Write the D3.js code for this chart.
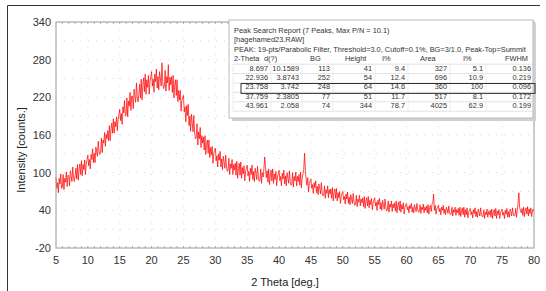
<!DOCTYPE html>
<html>
<head>
<style>
  body { margin: 0; background: #fff; font-family: "Liberation Sans", Arial, sans-serif; }
  .tick-label { font-size: 11px; fill: #333; }
  .axis-title { font-size: 11px; fill: #222; }
  .tbl { font-size: 7.4px; fill: #333; }
</style>
</head>
<body>
<script src="https://d3js.org/d3.v7.min.js"></script>
<script>
// x starts at 5 deg, one value every 0.125 deg up to 80 (8 per degree)
var startTheta = 5, stepTheta = 0.125;
var intensity = [
  93, 75, 84, 68, 91, 82, 98, 75,          // 5
  77, 97, 73, 91, 85, 101, 78, 96,         // 6
  95, 79, 103, 95, 86, 109, 92, 86,        // 7
  95, 107, 90, 113, 88, 105, 114, 97,      // 8
  119, 95, 113, 105, 120, 97, 114, 121,    // 9
  128, 111, 121, 106, 129, 121, 138, 116,  // 10
  131, 116, 141, 134, 126, 150, 134, 129,  // 11
  134, 155, 132, 152, 147, 164, 142, 161,  // 12
  154, 167, 151, 175, 151, 169, 179, 163,  // 13
  186, 163, 181, 173, 189, 167, 185, 192,  // 14
  201, 183, 194, 177, 205, 195, 215, 190,  // 15
  192, 219, 189, 214, 206, 228, 199, 222,  // 16
  222, 202, 233, 223, 212, 243, 221, 213,  // 17
  225, 241, 219, 249, 216, 239, 251, 229,  // 18
  257, 225, 248, 236, 255, 225, 245, 253,  // 19
  261, 238, 249, 228, 257, 245, 265, 235,  // 20
  253, 232, 261, 250, 238, 275, 243, 234,  // 21
  238, 263, 230, 253, 243, 272, 231, 252,  // 22
  240, 253, 228, 255, 219, 239, 248, 223,  // 23
  248, 213, 231, 216, 231, 198, 215, 219,  // 24
  223, 197, 205, 181, 207, 191, 209, 175,  // 25
  190, 166, 193, 180, 165, 191, 165, 154,  // 26
  155, 178, 144, 165, 154, 172, 140, 159,  // 27
  147, 157, 136, 159, 129, 145, 152, 131,  // 28
  152, 124, 140, 128, 142, 115, 130, 135,  // 29
  139, 119, 127, 109, 130, 120, 134, 109,  // 30
  122, 105, 126, 117, 107, 128, 109, 102,  // 31
  104, 123, 97, 114, 107, 121, 97, 113,    // 32
  104, 115, 96, 118, 91, 107, 115, 96,     // 33
  117, 91, 108, 98, 111, 87, 102, 107,     // 34
  112, 95, 102, 86, 107, 97, 112, 89,      // 35
  102, 86, 107, 99, 89, 110, 93, 86,       // 36
  88, 106, 83, 100, 93, 107, 125, 108,     // 37
  92, 103, 85, 106, 81, 96, 104, 87,       // 38
  106, 83, 98, 89, 102, 79, 93, 99,        // 39
  104, 87, 94, 79, 99, 90, 104, 82,        // 40
  95, 79, 100, 92, 83, 103, 86, 80,        // 41
  82, 100, 77, 94, 87, 101, 79, 94,        // 42
  86, 97, 80, 101, 76, 91, 98, 105,        // 43
  131, 104, 90, 80, 92, 69, 83, 87,        // 44
  90, 75, 81, 67, 84, 76, 87, 68,          // 45
  78, 65, 82, 75, 66, 84, 69, 63,          // 46
  64, 79, 59, 73, 67, 79, 60, 73,          // 47
  66, 74, 59, 76, 55, 68, 74, 59,          // 48
  75, 55, 68, 60, 70, 51, 63, 67,          // 49
  70, 57, 62, 50, 66, 58, 69, 51,          // 50
  61, 49, 65, 58, 51, 67, 54, 48,          // 51
  50, 64, 46, 58, 53, 64, 47, 58,          // 52
  52, 60, 46, 62, 43, 55, 60, 47,          // 53
  62, 44, 56, 49, 59, 41, 52, 56,          // 54
  60, 47, 53, 40, 56, 49, 59, 42,          // 55
  52, 40, 56, 49, 42, 58, 45, 39,          // 56
  41, 55, 37, 50, 45, 55, 38, 50,          // 57
  44, 52, 39, 55, 36, 47, 53, 40,          // 58
  55, 37, 49, 42, 52, 34, 45, 49,          // 59
  51, 41, 46, 36, 48, 43, 51, 37,          // 60
  45, 36, 49, 44, 38, 51, 41, 37,          // 61
  38, 49, 35, 45, 41, 50, 36, 45,          // 62
  40, 47, 36, 49, 34, 44, 48, 38,          // 63
  50, 52, 66, 40, 48, 34, 42, 45,          // 64
  48, 38, 43, 33, 45, 40, 48, 35,          // 65
  42, 33, 45, 41, 35, 47, 37, 33,          // 66
  34, 45, 31, 41, 37, 45, 32, 41,          // 67
  36, 43, 32, 45, 30, 39, 44, 33,          // 68
  45, 29, 41, 33, 44, 28, 37, 41,          // 69
  43, 33, 38, 28, 41, 35, 44, 30,          // 70
  38, 29, 42, 37, 31, 44, 34, 30,          // 71
  30, 41, 27, 37, 33, 42, 29, 38,          // 72
  33, 40, 29, 42, 27, 37, 41, 31,          // 73
  43, 27, 39, 33, 41, 27, 36, 39,          // 74
  42, 32, 37, 27, 40, 34, 43, 29,          // 75
  38, 29, 42, 37, 31, 44, 34, 31,          // 76
  32, 43, 29, 40, 52, 68, 44, 40,          // 77
  36, 43, 32, 45, 30, 40, 44, 34,          // 78
  46, 31, 42, 35, 44, 30, 39, 42,          // 79
  38                                       // 80
];
var xTicks = [5, 10, 15, 20, 25, 30, 35, 40, 45, 50, 55, 60, 65, 70, 75, 80];
var yTicks = [-20, 40, 100, 160, 220, 280, 340];

var reportLines = [
  "Peak Search Report (7 Peaks, Max P/N = 10.1)",
  "[hagehamed23.RAW]",
  "PEAK: 19-pts/Parabolic Filter, Threshold=3.0, Cutoff=0.1%, BG=3/1.0, Peak-Top=Summit"
];
var tableHeaders = ["2-Theta", "d(?)", "BG", "Height", "I%", "Area", "I%", "FWHM"];
var tableRows = [
  ["8.697", "10.1589", "113", "41", "9.4", "327", "5.1", "0.136"],
  ["22.936", "3.8743", "252", "54", "12.4", "696", "10.9", "0.219"],
  ["23.758", "3.742", "248", "64", "14.6", "360", "100", "0.096"],
  ["37.759", "2.3805", "77", "51", "11.7", "517", "8.1", "0.172"],
  ["43.961", "2.058", "74", "344", "78.7", "4025", "62.9", "0.199"]
];
var highlightRow = 2;

var W = 546, H = 291;
var svg = d3.select("body").append("svg").attr("width", W).attr("height", H);

var x = d3.scaleLinear().domain([5, 80]).range([56, 534]);
var y = d3.scaleLinear().domain([-20, 340]).range([248, 22]);

// outer frame (left + top)
svg.append("path").attr("d", "M7.5,291 V5.5 H540")
  .attr("fill", "none").attr("stroke", "#333").attr("stroke-width", 1);

// faint dotted grid
var grid = svg.append("g").attr("stroke", "#d8d8d8").attr("stroke-dasharray", "1,7");
grid.selectAll("line.vx").data(d3.range(10, 80, 5)).enter().append("line")
  .attr("x1", d => x(d)).attr("x2", d => x(d)).attr("y1", y(340)).attr("y2", y(-20));
grid.selectAll("line.hy").data(d3.range(10, 340, 30)).enter().append("line")
  .attr("x1", x(5)).attr("x2", x(80)).attr("y1", d => y(d)).attr("y2", d => y(d));

// data trace
var pts = intensity.map((v, i) => [startTheta + i * stepTheta, v]);
var line = d3.line().x(d => x(d[0])).y(d => y(d[1]));
svg.append("path").datum(pts).attr("d", line)
  .attr("fill", "none").attr("stroke", "#ff0000").attr("stroke-width", 0.9)
  .attr("stroke-opacity", 0.8);

// plot frame
svg.append("rect").attr("x", x(5)).attr("y", y(340))
  .attr("width", x(80) - x(5)).attr("height", y(-20) - y(340))
  .attr("fill", "none").attr("stroke", "#9a9a9a").attr("stroke-width", 1);

// minor ticks on top and bottom
var minor = svg.append("g").attr("stroke", "#999").attr("stroke-width", 0.8);
minor.selectAll("line.b").data(d3.range(6, 80, 1)).enter().append("line")
  .attr("x1", d => x(d)).attr("x2", d => x(d)).attr("y1", y(-20)).attr("y2", y(-20) - 2);
minor.selectAll("line.t").data(d3.range(6, 80, 1)).enter().append("line")
  .attr("x1", d => x(d)).attr("x2", d => x(d)).attr("y1", y(340)).attr("y2", y(340) + 2);

// tick labels
svg.selectAll("text.xt").data(xTicks).enter().append("text")
  .attr("class", "tick-label").attr("x", d => x(d)).attr("y", 264)
  .attr("text-anchor", "middle").text(d => d);
svg.selectAll("text.yt").data(yTicks).enter().append("text")
  .attr("class", "tick-label").attr("x", 51).attr("y", d => y(d) + 4)
  .attr("text-anchor", "end").text(d => d);

// axis titles
svg.append("text").attr("class", "axis-title").attr("x", 285).attr("y", 286)
  .attr("text-anchor", "middle").text("2 Theta [deg.]");
svg.append("text").attr("class", "axis-title")
  .attr("transform", "translate(25,150) rotate(-90)")
  .attr("text-anchor", "middle").text("Intensity [counts.]");

// peak search report box
var bx = 229, by = 20, bw = 304, bh = 98;
svg.append("rect").attr("x", bx + 3).attr("y", by + 3).attr("width", bw).attr("height", bh)
  .attr("fill", "#d0d0d0");
svg.append("rect").attr("x", bx).attr("y", by).attr("width", bw).attr("height", bh)
  .attr("fill", "#fff").attr("stroke", "#bbb");

svg.append("clipPath").attr("id", "boxclip").append("rect")
  .attr("x", bx).attr("y", by).attr("width", bw - 1).attr("height", bh);
var tb = svg.append("g").attr("clip-path", "url(#boxclip)");

var lineH = 9.4, firstY = 33;
tb.selectAll("text.rl").data(reportLines).enter().append("text")
  .attr("class", "tbl").attr("x", 234).attr("y", (d, i) => firstY + i * lineH).text(d => d);

var headX = [234, 264, 310, 345, 382, 420, 463, 505];
var rightX = [268, 299, 330, 372, 405, 447, 483, 531];
var headY = firstY + 3 * lineH;
tb.selectAll("text.hd").data(tableHeaders).enter().append("text")
  .attr("class", "tbl").attr("x", (d, i) => headX[i]).attr("y", headY).text(d => d);

// row separators
var sepY = d3.range(tableRows.length + 1).map(i => headY + 3 + i * lineH);
tb.selectAll("line.sep").data(sepY).enter().append("line")
  .attr("x1", 233).attr("x2", 533).attr("y1", d => d).attr("y2", d => d)
  .attr("stroke", "#e2e2e2");
tb.selectAll("line.vsep").data([233].concat(rightX.slice(0, 7).map(v => v + 3))).enter().append("line")
  .attr("x1", d => d).attr("x2", d => d).attr("y1", sepY[0]).attr("y2", sepY[sepY.length - 1])
  .attr("stroke", "#ececec");

tableRows.forEach(function(row, r) {
  tb.selectAll("text.r" + r).data(row).enter().append("text")
    .attr("class", "tbl").attr("x", (d, i) => rightX[i])
    .attr("y", headY + (r + 1) * lineH).attr("text-anchor", "end").text(d => d);
});

// highlighted row outline
svg.append("rect").attr("x", 241).attr("y", sepY[highlightRow] + 0.5)
  .attr("width", 294).attr("height", lineH + 0.5)
  .attr("fill", "none").attr("stroke", "#333").attr("stroke-width", 1);
</script>
</body>
</html>
